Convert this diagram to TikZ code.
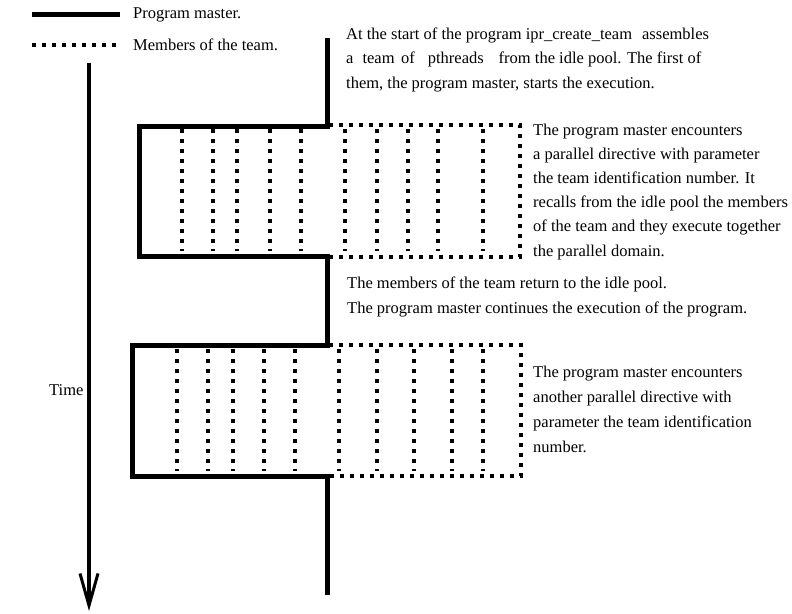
\documentclass[tikz,border=0pt]{standalone}
\usepackage{fontspec}
\setmainfont{Liberation Serif}
\usetikzlibrary{arrows.meta}
\begin{document}
\begin{tikzpicture}[x=1pt,y=-1pt,
  master/.style={line width=5pt, line cap=butt, line join=miter},
  member/.style={line width=4pt, line cap=butt, dash pattern=on 4pt off 6pt},
  timeline/.style={line width=3.5pt, -{Straight Barb[length=32pt,width=18pt,line width=3pt]}},
  txt/.style={anchor=base west, inner sep=0pt, font=\fontsize{16.5}{24}\selectfont},
]
\useasboundingbox (0,0) rectangle (792,613);

% legend
\coordinate (lgA) at (32,14.5);  \coordinate (lgB) at (120,14.5);
\coordinate (lgC) at (32,44.5);  \coordinate (lgD) at (118,44.5);
\draw[master] (lgA) -- (lgB);
\draw[member] (lgC) -- (lgD);
\node[txt] (lgmaster) at (133,18) {Program master.};
\node[txt] (lgteam) at (133,50) {Members of the team.};

% time axis
\coordinate (t0) at (89,63);
\coordinate (t1) at (89,611);
\draw[timeline] (t0) -- (t1);
\node[txt] (time) at (49,395) {Time};

% program master path
\coordinate (m0) at (327,38);
\coordinate (m1) at (327,126);
\coordinate (m2) at (139,126);
\coordinate (m3) at (139,256);
\coordinate (m4) at (327,256);
\coordinate (m5) at (327,345.5);
\coordinate (m6) at (132,345.5);
\coordinate (m7) at (132,476);
\coordinate (m8) at (327,476);
\coordinate (m9) at (327,595);
\draw[master] (m0) -- (m1) -- (m2) -- (m3) -- (m4) -- (m5) -- (m6) -- (m7) -- (m8) -- (m9);

% first parallel domain: team members
\coordinate (r1a) at (329,125);
\coordinate (r1b) at (520,125);
\coordinate (r1c) at (520,257);
\coordinate (r1d) at (329,257);
\draw[member] (r1a) -- (r1b) -- (r1c) -- (r1d);
\foreach \x in {182,213,237,270,301,345,377,408,438,483}
  \draw[member] (\x,129) -- (\x,251);

% second parallel domain: team members
\coordinate (r2a) at (329,345);
\coordinate (r2b) at (521,345);
\coordinate (r2c) at (521,476);
\coordinate (r2d) at (329,476);
\draw[member] (r2a) -- (r2b) -- (r2c) -- (r2d);
\foreach \x in {177,208,233,264,295,339,377,414,452,483}
  \draw[member] (\x,349) -- (\x,471);

% annotations
\node[txt] (a1) at (346,39) {At the start of the program ipr\_create\_team\hspace{10pt}assembles};
\node[txt] (a2) at (346,63.5) {a\hspace{9pt}team\hspace{6.5pt}of\hspace{13pt}pthreads\hspace{15pt}from the idle pool. The first of};
\node[txt] (a3) at (346,88) {them, the program master, starts the execution.};

\node[txt] (b1) at (533,135) {The program master encounters};
\node[txt] (b2) at (533,159.2) {a parallel directive with parameter};
\node[txt] (b3) at (533,183.4) {the team identification number. It};
\node[txt] (b4) at (533,207.6) {recalls from the idle pool the members};
\node[txt] (b5) at (533,231.8) {of the team and they execute together};
\node[txt] (b6) at (533,256) {the parallel domain.};

\node[txt] (c1) at (347,288) {The members of the team return to the idle pool.};
\node[txt] (c2) at (347,313) {The program master continues the execution of the program.};

\node[txt] (d1) at (533,377) {The program master encounters};
\node[txt] (d2) at (533,402) {another parallel directive with};
\node[txt] (d3) at (533,427) {parameter the team identification};
\node[txt] (d4) at (533,452) {number.};
\end{tikzpicture}
\end{document}
